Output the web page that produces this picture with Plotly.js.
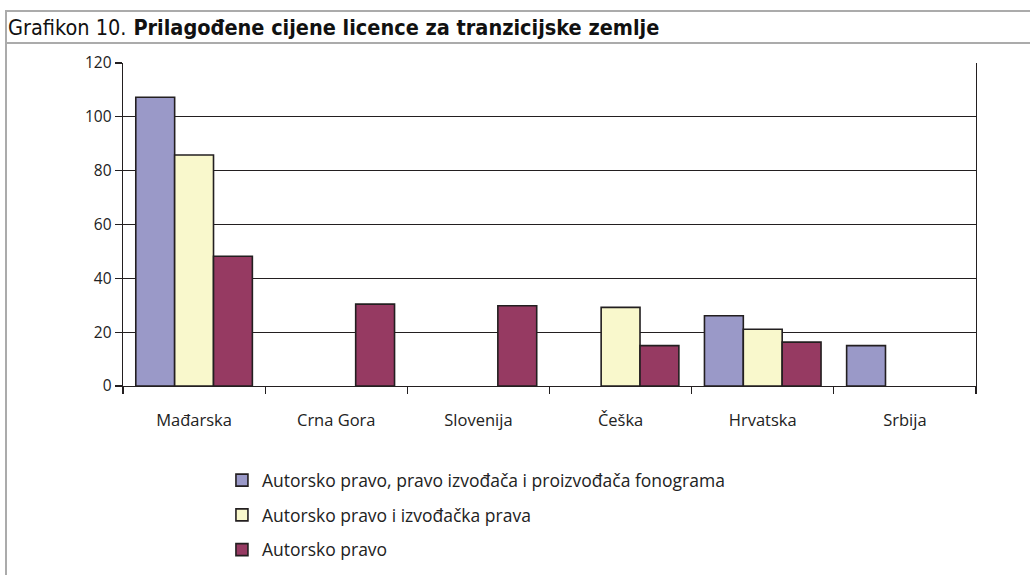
<!DOCTYPE html>
<html>
<head>
<meta charset="utf-8">
<script src="https://cdn.plot.ly/plotly-3.0.1.min.js"></script>
<style>
  body { margin: 0; background: #fff; }
  #wrap { position: relative; width: 1030px; height: 575px; overflow: hidden; }
  #chart { position: absolute; left: 0; top: 0; width: 1030px; height: 600px; }
  .rule { position: absolute; background: #ababab; z-index: 2; }
  #title { position: absolute; left: 8px; top: 15px; z-index: 2;
           font-family: "Liberation Sans Narrow", "DejaVu Sans Condensed", sans-serif;
           font-size: 21.5px; color: #111; white-space: nowrap; line-height: 26px; }
  #title b { margin-left: 7px; }
</style>
</head>
<body>
<div id="wrap">
  <div id="chart"></div>
  <div class="rule" style="left:5px; top:10px; width:1025px; height:2px;"></div>
  <div class="rule" style="left:5px; top:42px; width:1025px; height:2px;"></div>
  <div class="rule" style="left:5px; top:10px; width:2px; height:565px;"></div>
  <div id="title">Grafikon 10.<b>Prilagođene cijene licence za tranzicijske zemlje</b></div>
</div>
<script>
window.addEventListener('load', function() {
  // države
  const countries = ["Mađarska", "Crna Gora", "Slovenija", "Češka", "Hrvatska", "Srbija"];

  // serije (null = nema stupca)
  const seriesNames = [
    "Autorsko pravo, pravo izvođača i proizvođača fonograma",
    "Autorsko pravo i izvođačka prava",
    "Autorsko pravo"
  ];
  const fullRights = [107.3, null, null, null, 26.1, 15.0];
  const authorPerformer = [85.8, null, null, 29.2, 21.1, null];
  const authorOnly = [48.2, 30.4, 29.8, 15.0, 16.3, null];

  const colors = ["#9a99c8", "#f9f8cc", "#963a62"];
  const values = [fullRights, authorPerformer, authorOnly];

  const font = "'Open Sans', 'Noto Sans', sans-serif";

  const traces = values.map(function(v, i) {
    return {
      type: "bar",
      x: countries,
      y: v,
      name: seriesNames[i],
      legendgroup: "g" + i,
      marker: { color: colors[i], line: { color: "#231f20", width: 1.6 } },
      hoverinfo: "x+y"
    };
  });

  // figura je malo viša od prozora da legenda ne gura marginu
  const layout = {
    width: 1030,
    height: 600,
    margin: { l: 123, r: 54, t: 63, b: 214 },
    paper_bgcolor: "#fff",
    plot_bgcolor: "#fff",
    barmode: "group",
    bargap: 0.18,
    bargroupgap: 0,
    font: { family: font, size: 14, color: "#222" },
    showlegend: true,
    legend: {
      orientation: "v",
      x: 0.116, xanchor: "left",
      y: -0.236, yanchor: "top",
      traceorder: "grouped",
      tracegroupgap: 9,
      font: { family: font, size: 17.5, color: "#222" },
      bgcolor: "rgba(0,0,0,0)"
    },
    xaxis: {
      type: "category",
      automargin: false,
      showline: true, linecolor: "#231f20", linewidth: 1.3,
      ticks: "outside", tickson: "boundaries", ticklen: 7, tickwidth: 1.3, tickcolor: "#231f20",
      ticklabelstandoff: 19,
      showgrid: false,
      tickfont: { family: font, size: 16.5, color: "#222" }
    },
    yaxis: {
      automargin: false,
      range: [0, 120], dtick: 20,
      showline: true, linecolor: "#231f20", linewidth: 1.3, mirror: true,
      ticks: "outside", ticklen: 7, tickwidth: 1.3, tickcolor: "#231f20",
      showgrid: true, gridcolor: "#231f20", gridwidth: 1,
      zeroline: false,
      tickfont: { family: font, size: 15.5, color: "#222" }
    }
  };

  Plotly.newPlot("chart", traces, layout, { displayModeBar: false, staticPlot: true });
});
</script>
</body>
</html>
